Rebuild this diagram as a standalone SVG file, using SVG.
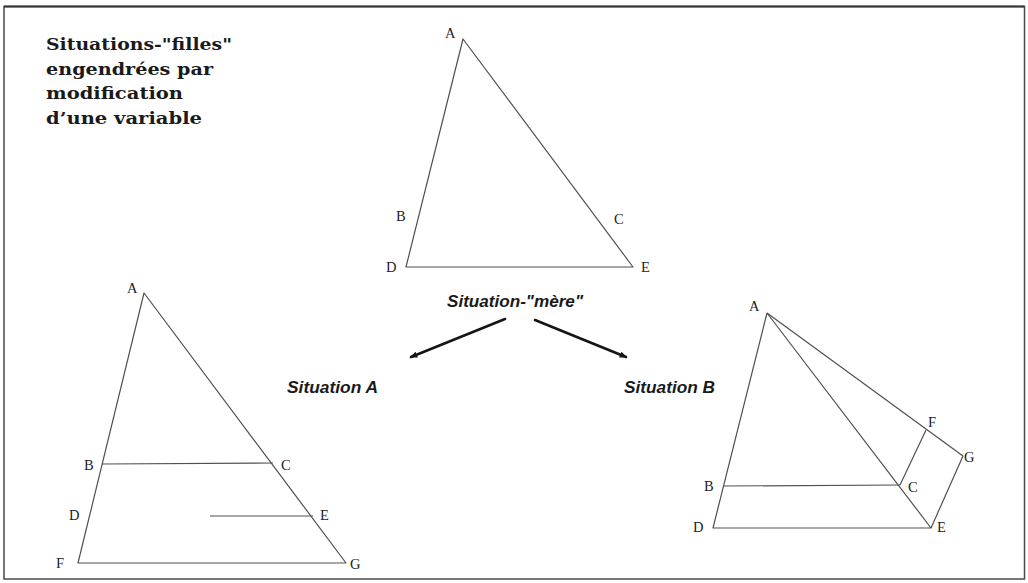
<svg xmlns="http://www.w3.org/2000/svg" width="1028" height="583" viewBox="0 0 1028 583">
<style>
.frame{fill:none;stroke:#4a4a4a;stroke-width:1.5}
.edge{fill:none;stroke:#505050;stroke-width:1.2;stroke-linejoin:round}
.lbl{font-family:"Liberation Serif","Times New Roman",serif;font-size:14.5px;fill:#222}
.title{font-family:"DejaVu Serif","Liberation Serif",serif;font-weight:bold;font-size:17px;fill:#1a1a1a}
.sit{font-family:"Liberation Sans",Arial,sans-serif;font-weight:bold;font-style:italic;font-size:17px;fill:#1a1a1a}
.arrow{stroke:#151515;stroke-width:2.6;fill:none;stroke-linecap:round}
</style>
<defs>
<marker id="ah" viewBox="0 0 10 10" refX="8" refY="5" markerWidth="3" markerHeight="3" orient="auto" markerUnits="strokeWidth">
<path d="M0,1 L10,5 L0,9 z" fill="#151515"/>
</marker>
</defs>
<rect width="1028" height="583" fill="#fff"/>
<rect class="frame" x="4" y="6.5" width="1020.5" height="572.5"/>
<line x1="4" y1="6.5" x2="1024.5" y2="6.5" stroke="#333" stroke-width="2"/>

<g id="title">
<text class="title" x="46" y="50" textLength="186" lengthAdjust="spacingAndGlyphs">Situations-"filles"</text>
<text class="title" x="46" y="74.5" textLength="167" lengthAdjust="spacingAndGlyphs">engendrées par</text>
<text class="title" x="46" y="99" textLength="137" lengthAdjust="spacingAndGlyphs">modification</text>
<text class="title" x="46" y="123.5" textLength="156" lengthAdjust="spacingAndGlyphs">d’une variable</text>
</g>

<g id="mere">
<polygon class="edge" points="463,39 406,267 633,267"/>
<text class="lbl" x="445" y="38">A</text>
<text class="lbl" x="396" y="221">B</text>
<text class="lbl" x="614" y="224">C</text>
<text class="lbl" x="386" y="272">D</text>
<text class="lbl" x="641" y="272">E</text>
<text class="sit" x="447" y="307" textLength="136" lengthAdjust="spacingAndGlyphs">Situation-"mère"</text>
</g>

<g id="situationA">
<polygon class="edge" points="144,293 78,563 346,563"/>
<line class="edge" x1="102" y1="464" x2="273" y2="463"/>
<line class="edge" x1="210" y1="516" x2="313" y2="516"/>
<text class="lbl" x="127" y="293">A</text>
<text class="lbl" x="84" y="470">B</text>
<text class="lbl" x="281" y="470">C</text>
<text class="lbl" x="69" y="520">D</text>
<text class="lbl" x="320" y="520">E</text>
<text class="lbl" x="56" y="568">F</text>
<text class="lbl" x="350" y="569">G</text>
<text class="sit" x="287" y="393" textLength="91" lengthAdjust="spacingAndGlyphs">Situation A</text>
</g>

<g id="situationB">
<polyline class="edge" points="767,313 713,528 931,528 767,313"/>
<line class="edge" x1="767" y1="313" x2="963" y2="456"/>
<line class="edge" x1="723" y1="486" x2="900" y2="485"/>
<line class="edge" x1="900" y1="485" x2="926" y2="430"/>
<line class="edge" x1="931" y1="528" x2="963" y2="456"/>
<text class="lbl" x="749" y="311">A</text>
<text class="lbl" x="704" y="491">B</text>
<text class="lbl" x="908" y="492">C</text>
<text class="lbl" x="693" y="532">D</text>
<text class="lbl" x="937" y="532">E</text>
<text class="lbl" x="928" y="427">F</text>
<text class="lbl" x="964" y="462">G</text>
<text class="sit" x="624" y="393" textLength="91" lengthAdjust="spacingAndGlyphs">Situation B</text>
</g>

<g id="connectors">
<line class="arrow" x1="505" y1="319" x2="411" y2="357" marker-end="url(#ah)"/>
<line class="arrow" x1="535" y1="320" x2="626" y2="357" marker-end="url(#ah)"/>
</g>
</svg>
